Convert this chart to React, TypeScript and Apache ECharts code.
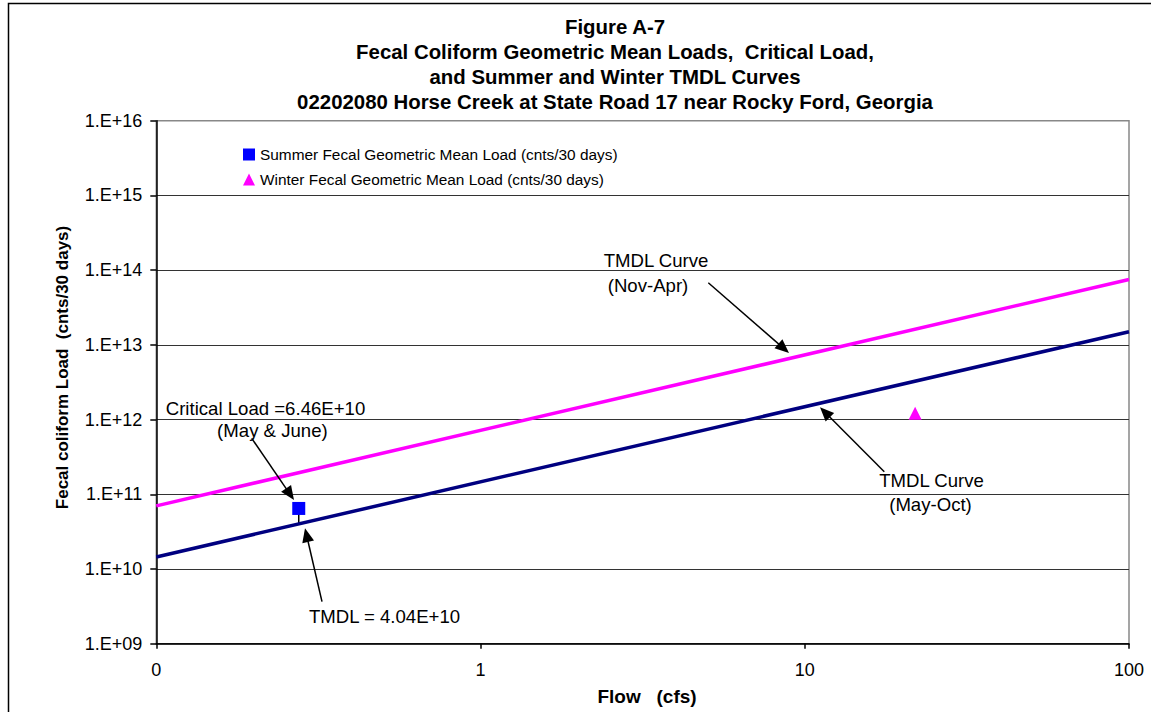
import React, { useEffect, useRef } from 'react';
import * as echarts from 'echarts';

const FONT = '"Liberation Sans", Arial, Helvetica, sans-serif';

const titleLines = [
  'Figure A-7',
  'Fecal Coliform Geometric Mean Loads,  Critical Load,',
  'and Summer and Winter TMDL Curves',
  '02202080 Horse Creek at State Road 17 near Rocky Ford, Georgia',
];

const xAxisTitle = 'Flow   (cfs)';
const yAxisTitle = 'Fecal coliform Load  (cnts/30 days)';

// TMDL curves (flow in cfs, load in counts / 30 days)
const tmdlFlows = [0.1, 100];
const summerTmdlLoads = [1.45e10, 1.5e13];
const winterTmdlLoads = [7.0e10, 7.5e13];

// Geometric mean loads
const summerFlows = [0.275];
const summerLoads = [6.46e10];
const winterFlows = [21.9];
const winterLoads = [1.21e12];

// Critical condition
const criticalFlow = 0.275;
const criticalLoad = 6.46e10;
const tmdlAtCritical = 4.04e10;

const xTickLabels: Record<string, string> = { '-1': '0', '0': '1', '1': '10', '2': '100' };

const summerName = 'Summer Fecal Geometric Mean Load (cnts/30 days)';
const winterName = 'Winter Fecal Geometric Mean Load (cnts/30 days)';

function arrow(x1: number, y1: number, x2: number, y2: number) {
  const dx = x2 - x1;
  const dy = y2 - y1;
  const len = Math.sqrt(dx * dx + dy * dy);
  const ux = dx / len;
  const uy = dy / len;
  const L = 14;
  const W = 6;
  const bx = x2 - ux * L;
  const by = y2 - uy * L;
  const nx = -uy;
  const ny = ux;
  return [
    {
      type: 'line',
      shape: { x1, y1, x2: bx + ux * 2, y2: by + uy * 2 },
      style: { stroke: '#000', lineWidth: 1.5 },
      z: 100,
    },
    {
      type: 'polygon',
      shape: {
        points: [
          [x2, y2],
          [bx + nx * W, by + ny * W],
          [bx - nx * W, by - ny * W],
        ],
      },
      style: { fill: '#000' },
      z: 100,
    },
  ];
}

function txt(text: string, x: number, y: number, size: number, bold = false, extra: any = {}) {
  const font = `${bold ? 'bold ' : ''}${size}px ${FONT}`;
  return {
    type: 'text',
    x,
    y,
    z: 100,
    ...extra,
    style: {
      text,
      font,
      fill: '#000',
      align: 'center',
      verticalAlign: 'middle',
      textAlign: 'center',
      textVerticalAlign: 'middle',
    },
  };
}

export default function App() {
  const ref = useRef<HTMLDivElement>(null);

  useEffect(() => {
    if (!ref.current) return;
    const chart = echarts.init(ref.current, null, { renderer: 'svg' });

    const titleBaselines = [34.3, 59.3, 84.3, 109.3];
    const graphic: any[] = [
      {
        type: 'rect',
        shape: { x: 8.5, y: 3.5, width: 1160, height: 720 },
        style: { fill: 'none', stroke: '#000', lineWidth: 1.5 },
        z: 100,
      },
      ...titleLines.map((t, i) => txt(t, 615, titleBaselines[i] - 7, 20.4, true)),
      txt(xAxisTitle, 647, 696, 19, true),
      txt(yAxisTitle, 62, 367.5, 17, true, { rotation: Math.PI / 2 }),
      txt('Critical Load =6.46E+10', 265.5, 408.7, 18.6),
      txt('(May & June)', 272.4, 430.7, 18.6),
      txt('TMDL = 4.04E+10', 384.5, 616.7, 18.6),
      txt('TMDL Curve', 656, 260.7, 18.6),
      txt('(Nov-Apr)', 648, 285.4, 18.6),
      txt('TMDL Curve', 931.5, 480.7, 18.6),
      txt('(May-Oct)', 930.5, 504.4, 18.6),
      ...arrow(251.7, 438.3, 294, 500),
      ...arrow(322, 601.7, 305, 528.3),
      ...arrow(708.3, 282.7, 789, 353),
      ...arrow(884.3, 471.7, 820, 407.3),
    ];

    chart.setOption({
      animation: false,
      backgroundColor: '#fff',
      grid: {
        left: 156.3,
        right: 22,
        top: 120.7,
        bottom: 68.3,
        show: true,
        borderColor: '#888',
        borderWidth: 1.5,
        backgroundColor: 'transparent',
      },
      legend: {
        orient: 'vertical',
        left: 243,
        top: 147,
        itemWidth: 12,
        itemHeight: 12,
        itemGap: 10,
        padding: 0,
        textStyle: { fontSize: 15.4, fontFamily: FONT, color: '#000' },
        data: [summerName, winterName],
      },
      xAxis: {
        type: 'log',
        logBase: 10,
        min: 0.1,
        max: 100,
        axisLine: { show: true, lineStyle: { color: '#000', width: 1.5 } },
        axisTick: { show: true, inside: false, length: 5, lineStyle: { color: '#000', width: 1.5 } },
        minorTick: { show: false },
        splitLine: { show: false },
        axisLabel: {
          margin: 17,
          fontSize: 18,
          fontFamily: FONT,
          color: '#000',
          formatter: (v: number) => xTickLabels[String(Math.round(Math.log10(v)))] ?? String(v),
        },
      },
      yAxis: {
        type: 'log',
        logBase: 10,
        min: 1e9,
        max: 1e16,
        axisLine: { show: true, lineStyle: { color: '#000', width: 1.5 } },
        axisTick: { show: true, inside: false, length: 6, lineStyle: { color: '#000', width: 1.5 } },
        splitLine: { show: true, showMinLine: false, showMaxLine: false, lineStyle: { color: '#333', width: 1 } },
        axisLabel: {
          margin: 14,
          fontSize: 18,
          fontFamily: FONT,
          color: '#000',
          formatter: (v: number) => {
            const e = Math.round(Math.log10(v));
            return '1.E+' + String(e).padStart(2, '0');
          },
        },
      },
      series: [
        {
          name: 'TMDL Curve (May-Oct)',
          type: 'line',
          data: tmdlFlows.map((f, i) => [f, summerTmdlLoads[i]]),
          symbol: 'none',
          lineStyle: { color: '#000080', width: 3.5 },
          itemStyle: { color: '#000080' },
          z: 3,
        },
        {
          name: 'TMDL Curve (Nov-Apr)',
          type: 'line',
          data: tmdlFlows.map((f, i) => [f, winterTmdlLoads[i]]),
          symbol: 'none',
          lineStyle: { color: '#FF00FF', width: 3.5 },
          itemStyle: { color: '#FF00FF' },
          z: 3,
        },
        {
          name: 'Critical drop',
          type: 'line',
          data: [
            [criticalFlow, criticalLoad],
            [criticalFlow, tmdlAtCritical],
          ],
          symbol: 'none',
          lineStyle: { color: '#000', width: 1.5 },
          z: 2,
        },
        {
          name: summerName,
          type: 'scatter',
          symbol: 'rect',
          symbolSize: 13,
          data: summerFlows.map((f, i) => [f, summerLoads[i]]),
          itemStyle: { color: '#0000FF', opacity: 1 },
          z: 5,
        },
        {
          name: winterName,
          type: 'scatter',
          symbol: 'triangle',
          symbolSize: 13,
          data: winterFlows.map((f, i) => [f, winterLoads[i]]),
          itemStyle: { color: '#FF00FF', opacity: 1 },
          z: 5,
        },
      ],
      graphic,
    });

    return () => chart.dispose();
  }, []);

  return (
    <div
      ref={ref}
      style={{ position: 'absolute', left: 0, top: 0, width: 1151, height: 712, background: '#fff' }}
    />
  );
}
